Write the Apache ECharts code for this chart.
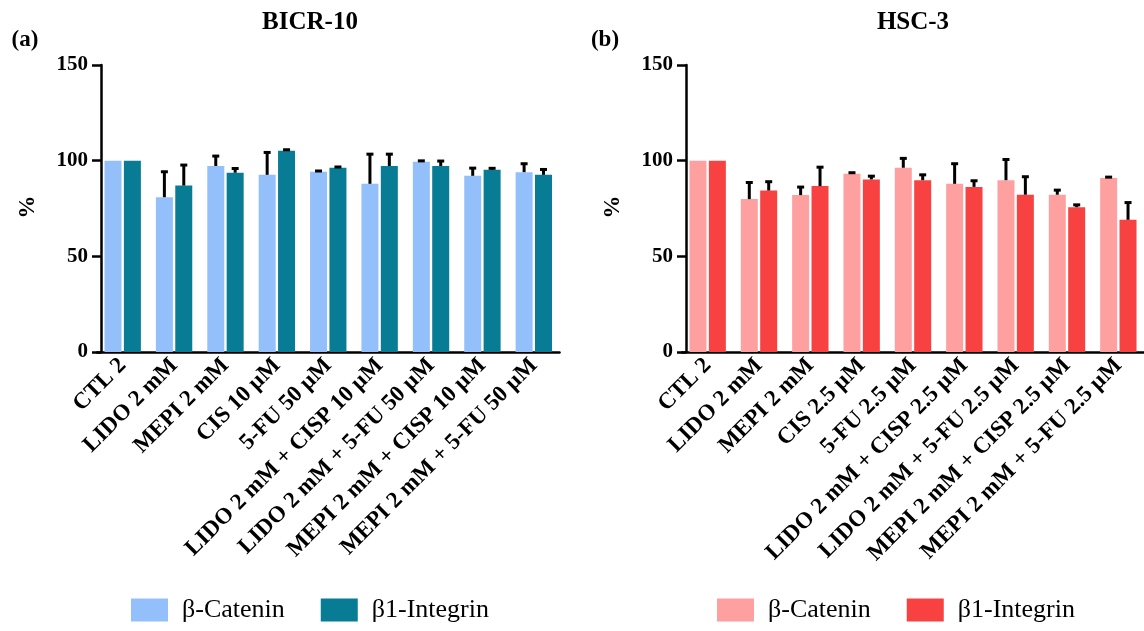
<!DOCTYPE html>
<html>
<head>
<meta charset="utf-8">
<title>β-Catenin and β1-Integrin expression</title>
<script src="https://cdn.jsdelivr.net/npm/echarts@6/dist/echarts.min.js"></script>
<style>
  html, body { margin: 0; padding: 0; background: #fff; }
  #chart { width: 1144px; height: 631px; }
</style>
</head>
<body>
<div id="chart"></div>
<script>
// Treatment groups, panel (a) BICR-10
const categoriesA = [
  'CTL 2', 'LIDO 2 mM', 'MEPI 2 mM', 'CIS 10 µM', '5-FU 50 µM',
  'LIDO 2 mM + CISP 10 µM', 'LIDO 2 mM + 5-FU 50 µM',
  'MEPI 2 mM + CISP 10 µM', 'MEPI 2 mM + 5-FU 50 µM'
];
// Treatment groups, panel (b) HSC-3
const categoriesB = [
  'CTL 2', 'LIDO 2 mM', 'MEPI 2 mM', 'CIS 2.5 µM', '5-FU 2.5 µM',
  'LIDO 2 mM + CISP 2.5 µM', 'LIDO 2 mM + 5-FU 2.5 µM',
  'MEPI 2 mM + CISP 2.5 µM', 'MEPI 2 mM + 5-FU 2.5 µM'
];

// Expression (% of control) and upper error (SD)
const betaCateninA    = [100, 80.9, 97.2, 92.6, 94.2, 87.9, 99.4, 92.1, 94.0];
const betaCateninErrA = [0, 13.3, 5.2, 11.7, 0.4, 15.5, 0.5, 4.0, 4.4];
const integrinA       = [100, 87.0, 93.7, 105.2, 96.3, 97.2, 97.2, 95.2, 92.6];
const integrinErrA    = [0, 10.7, 2.2, 0.5, 0.4, 6.2, 2.6, 0.8, 2.8];

const betaCateninB    = [100, 79.9, 82.0, 93.1, 96.3, 87.9, 89.8, 82.2, 91.0];
const betaCateninErrB = [0, 8.7, 4.2, 0.6, 4.9, 10.5, 10.8, 2.4, 0.4];
const integrinB       = [100, 84.4, 86.7, 90.2, 89.8, 86.3, 82.2, 75.7, 69.1];
const integrinErrB    = [0, 4.6, 9.9, 1.7, 2.8, 3.2, 9.4, 1.2, 9.0];

const yTicks = [0, 50, 100, 150];

const SERIF = "'Liberation Serif', 'Times New Roman', serif";
const BAR_WIDTH = 17;
const BAR_GAP_PX = 2.4;
const BAR_OFFSET = (BAR_WIDTH + BAR_GAP_PX) / 2;

const chart = echarts.init(document.getElementById('chart'), null, { renderer: 'canvas' });

// Upper-only error whisker with a short cap, centred on its bar
function errorBars(side) {
  return function (params, api) {
    const i = api.value(0), v = api.value(1), e = api.value(2);
    if (!(e > 0)) return null;
    const base = api.coord([i, v]);
    const top = api.coord([i, v + e]);
    const x = base[0] + side * BAR_OFFSET;
    const style = { stroke: '#000', lineWidth: 3 };
    return {
      type: 'group',
      children: [
        { type: 'line', shape: { x1: x, y1: base[1], x2: x, y2: top[1] }, style: style },
        { type: 'line', shape: { x1: x - 3.5, y1: top[1], x2: x + 3.5, y2: top[1] }, style: style }
      ]
    };
  };
}

function xAxisFor(gridIndex, cats) {
  return {
    type: 'category', gridIndex: gridIndex, data: cats,
    axisLine: { lineStyle: { color: '#000', width: 2.5 } },
    axisTick: { alignWithLabel: true, length: 8, lineStyle: { color: '#000', width: 2.5 } },
    axisLabel: {
      rotate: 45, interval: 0, margin: 10, color: '#000',
      fontFamily: SERIF, fontWeight: 'bold', fontSize: 23
    },
    splitLine: { show: false }
  };
}

function yAxisFor(gridIndex) {
  return {
    type: 'value', gridIndex: gridIndex,
    min: yTicks[0], max: yTicks[yTicks.length - 1], interval: yTicks[1] - yTicks[0],
    offset: -4,
    axisLine: { show: true, lineStyle: { color: '#000', width: 2.5 } },
    axisTick: { show: true, length: 9, lineStyle: { color: '#000', width: 2.5 } },
    axisLabel: { margin: 13, color: '#000', fontFamily: SERIF, fontWeight: 'bold', fontSize: 21 },
    splitLine: { show: false }
  };
}

function barSeries(name, data, color, axisIndex) {
  return {
    name: name, type: 'bar', xAxisIndex: axisIndex, yAxisIndex: axisIndex,
    data: data, barWidth: BAR_WIDTH, barGap: (BAR_GAP_PX / BAR_WIDTH * 100).toFixed(0) + '%',
    itemStyle: { color: color },
    emphasis: { disabled: true }
  };
}

function errSeries(values, errs, side, axisIndex) {
  return {
    type: 'custom', xAxisIndex: axisIndex, yAxisIndex: axisIndex, z: 10,
    data: values.map((v, i) => [i, v, errs[i]]),
    encode: { x: 0, y: 1 },
    renderItem: errorBars(side),
    silent: true
  };
}

const legendBase = {
  orient: 'horizontal', top: 597, icon: 'rect', padding: 0,
  itemWidth: 37, itemHeight: 23, itemGap: 36, selectedMode: false,
  textStyle: { fontFamily: SERIF, fontSize: 26, color: '#000', padding: [0, 0, 0, 9] }
};

const textStyle = (size, weight) => ({ fontFamily: SERIF, fontSize: size, fontWeight: weight, fill: '#000' });

chart.setOption({
  animation: false,
  backgroundColor: '#fff',
  grid: [
    { left: 97, top: 65, width: 462.5, height: 287 },
    { left: 682, top: 65, width: 462, height: 287 }
  ],
  xAxis: [xAxisFor(0, categoriesA), xAxisFor(1, categoriesB)],
  yAxis: [yAxisFor(0), yAxisFor(1)],
  legend: [
    Object.assign({}, legendBase, { left: 131, data: ['β-Catenin', 'β1-Integrin'] }),
    Object.assign({}, legendBase, {
      left: 717, data: ['HSC-3 β-Catenin', 'HSC-3 β1-Integrin'],
      formatter: n => n.replace('HSC-3 ', '')
    })
  ],
  series: [
    barSeries('β-Catenin', betaCateninA, '#93C0FA', 0),
    barSeries('β1-Integrin', integrinA, '#087C94', 0),
    barSeries('HSC-3 β-Catenin', betaCateninB, '#FFA0A0', 1),
    barSeries('HSC-3 β1-Integrin', integrinB, '#F84242', 1),
    errSeries(betaCateninA, betaCateninErrA, -1, 0),
    errSeries(integrinA, integrinErrA, 1, 0),
    errSeries(betaCateninB, betaCateninErrB, -1, 1),
    errSeries(integrinB, integrinErrB, 1, 1)
  ],
  graphic: [
    { type: 'text', x: 310, y: 23, style: Object.assign({ text: 'BICR-10', align: 'center', verticalAlign: 'middle' }, textStyle(25, 'bold')) },
    { type: 'text', x: 913, y: 23, style: Object.assign({ text: 'HSC-3', align: 'center', verticalAlign: 'middle' }, textStyle(25, 'bold')) },
    { type: 'text', x: 25, y: 40, style: Object.assign({ text: '(a)', align: 'center', verticalAlign: 'middle' }, textStyle(23, 'bold')) },
    { type: 'text', x: 605, y: 40, style: Object.assign({ text: '(b)', align: 'center', verticalAlign: 'middle' }, textStyle(23, 'bold')) },
    { type: 'text', x: 28, y: 207, rotation: Math.PI / 2, style: Object.assign({ text: '%', align: 'center', verticalAlign: 'middle' }, textStyle(23, 'bold')) },
    { type: 'text', x: 613, y: 207, rotation: Math.PI / 2, style: Object.assign({ text: '%', align: 'center', verticalAlign: 'middle' }, textStyle(23, 'bold')) }
  ]
});
</script>
</body>
</html>
